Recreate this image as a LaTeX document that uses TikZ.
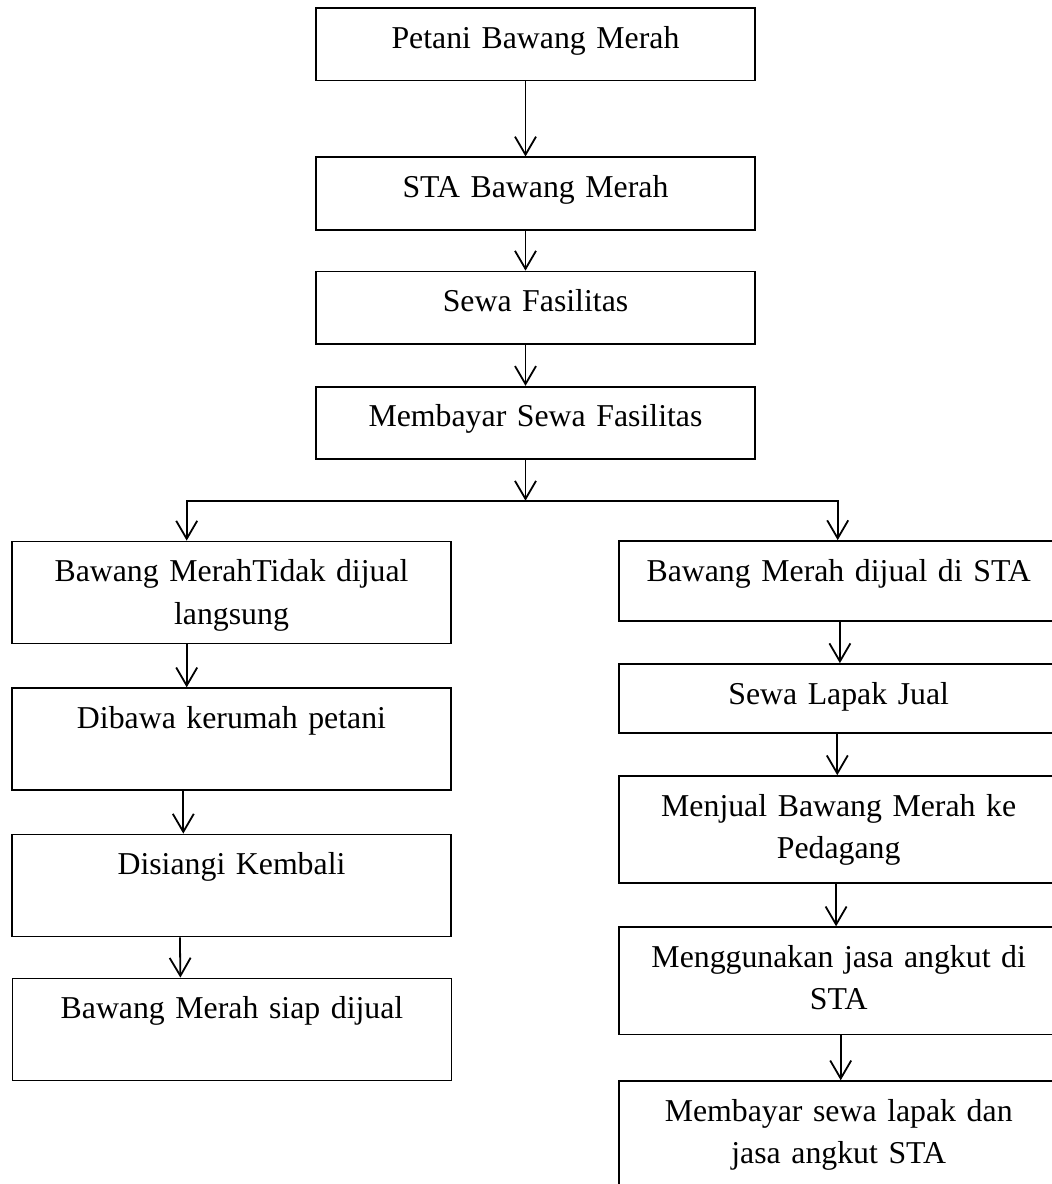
\documentclass[tikz,border=0pt]{standalone}
\usepackage{fontspec}
\setmainfont{Liberation Serif}
\usetikzlibrary{arrows.meta}

\tikzset{
    box/.style={draw, line width=0.9pt, rectangle, inner xsep=0pt, inner ysep=0pt,
        minimum width=219.5pt, text width=215pt, align=center, text height=20pt,
        font=\fontsize{15.9pt}{21.3pt}\selectfont},
    arr/.style={line width=0.9pt, -{Straight Barb[length=9pt, width=10.5pt]}},
}

\begin{document}
\begin{tikzpicture}[x=0.5pt, y=-0.5pt]
    \useasboundingbox (0,0) rectangle (1052,1184);

    % 1. Main column
    \node[box, text depth=16.25pt] (petani) at (535.5,44.3) {Petani Bawang Merah};
    \node[box, text depth=16.25pt] (sta) at (535.5,193.6) {STA Bawang Merah};
    \node[box, text depth=16.25pt] (sewa) at (535.5,307.8) {Sewa Fasilitas};
    \node[box, text depth=16.25pt] (bayar) at (535.5,423) {Membayar Sewa Fasilitas};

    \draw[arr] ([xshift=-5pt]petani.south) -- ([xshift=-5pt]sta.north);
    \draw[arr] ([xshift=-5pt]sta.south) -- ([xshift=-5pt]sewa.north);
    \draw[arr] ([xshift=-5pt]sewa.south) -- ([xshift=-5pt]bayar.north);

    % --- Left branch ---
    \node[box, text depth=31pt] (tidak) at (231.5,592.5) {Bawang MerahTidak dijual\\langsung};
    \node[box, text depth=31pt] (dibawa) at (231.5,739.2) {Dibawa kerumah petani};
    \node[box, text depth=31pt] (disiangi) at (231.5,885.5) {Disiangi Kembali};
    \node[box, text depth=31pt] (siap) at (232,1029.5) {Bawang Merah siap dijual};

    % --- Right branch ---
    \node[box, text depth=20pt] (dijual) at (838.7,581) {Bawang Merah dijual di STA};
    \node[box, text depth=14.65pt] (lapak) at (838.7,698.7) {Sewa Lapak Jual};
    \node[box, text depth=33.6pt] (pedagang) at (838.7,829.7) {Menjual Bawang Merah ke\\Pedagang};
    \node[box, text depth=33.6pt] (angkut) at (838.7,980.8) {Menggunakan jasa angkut di\\STA};
    \node[box, text depth=34pt] (bayarsta) at (838.7,1135.2) {Membayar sewa lapak dan\\jasa angkut STA};

    % split into the two branches
    \coordinate (split) at (525.5,500.7);
    \draw[arr] (bayar.south -| split) -- (split);
    \draw[arr] (split) -| ([xshift=-22.4pt]tidak.north);
    \draw[arr] (split) -| ([xshift=-0.5pt]dijual.north);

    \draw[arr] ([xshift=-22.4pt]tidak.south) -- ([xshift=-22.4pt]dibawa.north);
    \draw[arr] ([xshift=-24.1pt]dibawa.south) -- ([xshift=-24.1pt]disiangi.north);
    \draw[arr] ([xshift=-25.8pt]disiangi.south) -- ([xshift=-25.8pt]siap.north);

    \draw[arr] ([xshift=0.6pt]dijual.south) -- ([xshift=0.6pt]lapak.north);
    \draw[arr] ([xshift=-0.7pt]lapak.south) -- ([xshift=-0.7pt]pedagang.north);
    \draw[arr] ([xshift=-1.3pt]pedagang.south) -- ([xshift=-1.3pt]angkut.north);
    \draw[arr] ([xshift=1pt]angkut.south) -- ([xshift=1pt]bayarsta.north);

\end{tikzpicture}
\end{document}
